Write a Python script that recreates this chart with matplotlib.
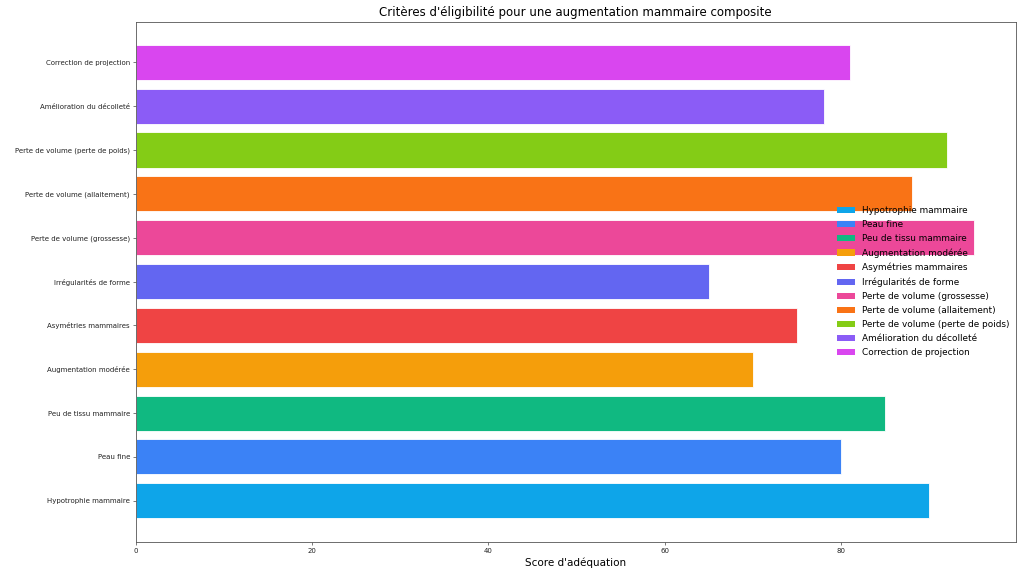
import matplotlib.pyplot as plt
import numpy as np

categories = ['Hypotrophie mammaire', 'Peau fine', 'Peu de tissu mammaire',
              'Augmentation modérée', 'Asymétries mammaires', 'Irrégularités de forme',
              'Perte de volume (grossesse)', 'Perte de volume (allaitement)',
              'Perte de volume (perte de poids)', 'Amélioration du décolleté',
              'Correction de projection']
scores = [90, 80, 85, 70, 75, 65, 95, 88, 92, 78, 81]
colors = ['#0ea5e9', '#3b82f6', '#10b981', '#f59e0b', '#ef4444', '#6366f1',
          '#ec4899', '#f97316', '#84cc16', '#8b5cf6', '#d946ef']

fig = plt.figure(figsize=(10.24, 5.76), dpi=100)
ax = fig.add_axes([135.5 / 1024, 1 - 542 / 576, 880 / 1024, 520 / 576])

y = np.arange(len(categories))
for i in range(len(categories)):
    ax.barh(y[i], scores[i], height=0.8, color=colors[i], edgecolor='white',
            linewidth=0.6, label=categories[i])

ax.set_yticks(y)
ax.set_yticklabels(categories, fontsize=5)
ax.tick_params(axis='both', labelsize=5, length=2, width=0.5, pad=2,
               color='#444444', labelcolor='#222222')
ax.set_xticks([0, 20, 40, 60, 80])
ax.set_xlim(0, max(scores) * 1.05)
ax.set_ylim(-0.94, 10.92)
for s in ax.spines.values():
    s.set_linewidth(0.6)
    s.set_color('#555555')

ax.set_title("Critères d'éligibilité pour une augmentation mammaire composite", fontsize=8.5, pad=4)
ax.set_xlabel("Score d'adéquation", fontsize=7.5, labelpad=3)
leg = ax.legend(loc='center left', bbox_to_anchor=(0.788, 0.501), frameon=False,
                fontsize=6.4, handlelength=2, labelspacing=0.57)
for h in leg.legend_handles:
    h.set_edgecolor('none')

fig.savefig('out.png', dpi=100)
